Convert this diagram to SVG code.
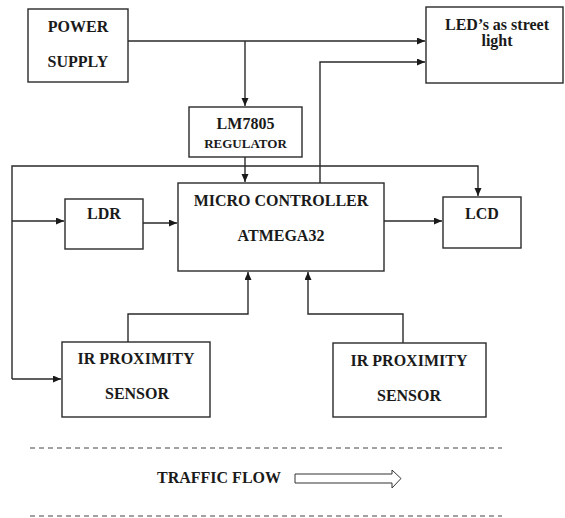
<svg xmlns="http://www.w3.org/2000/svg" width="565" height="518" viewBox="0 0 565 518">
<style>
.box{fill:#fff;stroke:#2a2a2a;stroke-width:1.4}
.t{font-family:"Liberation Serif","Times New Roman",serif;font-weight:bold;font-size:16px;fill:#1a1a1a;text-anchor:middle}
.s{font-size:13px}
.ln{fill:none;stroke:#2a2a2a;stroke-width:1.4}
.dash{fill:none;stroke:#444;stroke-width:1;stroke-dasharray:5,4}
</style>
<defs>
<marker id="ah" markerUnits="userSpaceOnUse" markerWidth="9" markerHeight="8" refX="8" refY="3.5" orient="auto">
<path d="M0,0 L8,3.5 L0,7 z" fill="#1a1a1a"/>
</marker>
</defs>
<rect width="565" height="518" fill="#fff"/>
<g id="connectors">
<path class="ln" d="M128,41 H425" marker-end="url(#ah)"/>
<path class="ln" d="M245,41 V106" marker-end="url(#ah)"/>
<path class="ln" d="M245,157 V182" marker-end="url(#ah)"/>
<path class="ln" d="M320,183 V62 H425" marker-end="url(#ah)"/>
<path class="ln" d="M12,379 V166 H478 V196" marker-end="url(#ah)"/>
<path class="ln" d="M12,379 H61" marker-end="url(#ah)"/>
<path class="ln" d="M12,221 H64" marker-end="url(#ah)"/>
<path class="ln" d="M143,223 H177" marker-end="url(#ah)"/>
<path class="ln" d="M384,221 H442" marker-end="url(#ah)"/>
<path class="ln" d="M128,342 V314 H248 V272" marker-end="url(#ah)"/>
<path class="ln" d="M403,343 V314 H308 V272" marker-end="url(#ah)"/>
</g>
<g id="power-supply">
<rect class="box" x="28" y="9" width="100" height="73"/>
<text class="t" x="78" y="32">POWER</text>
<text class="t" x="78" y="67">SUPPLY</text>
</g>
<g id="led">
<rect class="box" x="426" y="7" width="137" height="76"/>
<text class="t" x="497" y="30">LED’s as street</text>
<text class="t" x="497" y="46">light</text>
</g>
<g id="regulator">
<rect class="box" x="189" y="107" width="113" height="50"/>
<text class="t" x="245.5" y="129">LM7805</text>
<text class="t s" x="245.5" y="148">REGULATOR</text>
</g>
<g id="ldr">
<rect class="box" x="65" y="199" width="78" height="50"/>
<text class="t" x="104" y="219">LDR</text>
</g>
<g id="microcontroller">
<rect class="box" x="178" y="183" width="206" height="88"/>
<text class="t" x="281" y="206">MICRO CONTROLLER</text>
<text class="t" x="281" y="241">ATMEGA32</text>
</g>
<g id="lcd">
<rect class="box" x="443" y="197" width="78" height="51"/>
<text class="t" x="482" y="219">LCD</text>
</g>
<g id="ir-left">
<rect class="box" x="62" y="342" width="148" height="75"/>
<text class="t" x="136" y="364">IR PROXIMITY</text>
<text class="t" x="137" y="399">SENSOR</text>
</g>
<g id="ir-right">
<rect class="box" x="333" y="343" width="153" height="74"/>
<text class="t" x="409" y="366">IR PROXIMITY</text>
<text class="t" x="409" y="401">SENSOR</text>
</g>
<g id="traffic">
<path class="dash" d="M30,448 H502"/>
<path class="dash" d="M30,516 H502"/>
<text class="t" x="219" y="483">TRAFFIC FLOW</text>
<polygon points="295,474 392,474 392,470 401,478.5 392,488 392,483 295,483" fill="#fff" stroke="#333" stroke-width="1"/>
</g>
</svg>
